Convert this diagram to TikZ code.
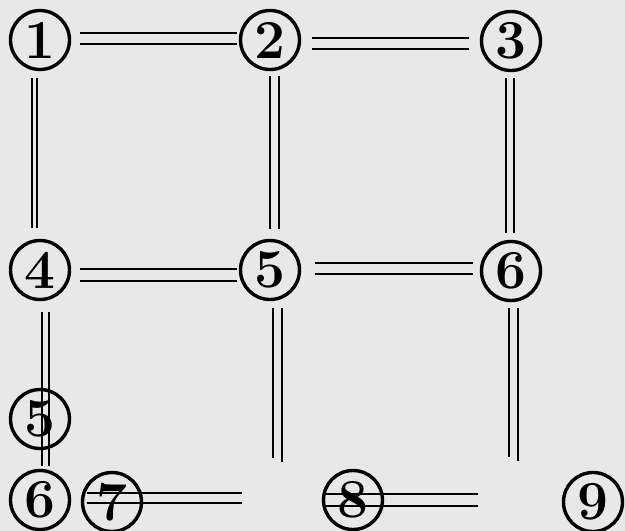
\documentclass[tikz,border=0pt]{standalone}
\usepackage{tikz}
\definecolor{paper}{RGB}{232,232,230}

\begin{document}
\begin{tikzpicture}[x=1pt, y=-1pt,
	num/.style={circle, draw, line width=3.4pt, minimum size=59pt, inner sep=0pt, outer sep=0pt, font=\fontsize{55}{55}\selectfont\bfseries},
	rail/.style={line width=1.5pt}]
	\fill[paper] (0,0) rectangle (625,531);
	\useasboundingbox (0,0) rectangle (625,531);
	% circled numbers
	\node[num] (n1) at (40,40) {1};
	\node[num] (n2) at (270,40) {2};
	\node[num] (n3) at (511,41) {3};
	\node[num] (n4) at (40,270) {4};
	\node[num] (n5) at (270,270) {5};
	\node[num] (n6) at (511,271) {6};
	\node[num] (n5b) at (40,419) {5};
	\node[num] (n6b) at (40,500) {6};
	\node[num] (n7) at (112,502) {7};
	\node[num] (n8) at (353,500) {8};
	\node[num] (n9) at (593,502) {9};
	% free ends
	\coordinate (e5a) at (273,458);
	\coordinate (e5b) at (282,462);
	\coordinate (e6a) at (509,457);
	\coordinate (e6b) at (518,461);
	\coordinate (e7a) at (242,493);
	\coordinate (e7b) at (242,503);
	\coordinate (e8a) at (478,494);
	\coordinate (e8b) at (478,506);
	% top row
	\draw[rail] ([shift={(10,-7)}]n1.east) -- ([shift={(-4,-7)}]n2.west);
	\draw[rail] ([shift={(10,4)}]n1.east) -- ([shift={(-4,4)}]n2.west);
	\draw[rail] ([shift={(12,-2)}]n2.east) -- ([shift={(-13,-3)}]n3.west);
	\draw[rail] ([shift={(12,9)}]n2.east) -- ([shift={(-13,8)}]n3.west);
	% middle row
	\draw[rail] ([shift={(10,-1)}]n4.east) -- ([shift={(-4,-1)}]n5.west);
	\draw[rail] ([shift={(10,11)}]n4.east) -- ([shift={(-4,11)}]n5.west);
	\draw[rail] ([shift={(15,-7)}]n5.east) -- ([shift={(-9,-8)}]n6.west);
	\draw[rail] ([shift={(15,4)}]n5.east) -- ([shift={(-9,3)}]n6.west);
	% verticals
	\draw[rail] ([shift={(-8,8)}]n1.south) -- ([shift={(-8,-13)}]n4.north);
	\draw[rail] ([shift={(-3,8)}]n1.south) -- ([shift={(-3,-13)}]n4.north);
	\draw[rail] ([shift={(0,6)}]n2.south) -- ([shift={(0,-12)}]n5.north);
	\draw[rail] ([shift={(9,6)}]n2.south) -- ([shift={(9,-12)}]n5.north);
	\draw[rail] ([shift={(-5,7)}]n3.south) -- ([shift={(-5,-9)}]n6.north);
	\draw[rail] ([shift={(3,7)}]n3.south) -- ([shift={(3,-9)}]n6.north);
	\draw[rail] ([shift={(2,12)}]n4.south) -- ([shift={(2,-5)}]n6b.north);
	\draw[rail] ([shift={(9,12)}]n4.south) -- ([shift={(9,-5)}]n6b.north);
	\draw[rail] ([shift={(3,8)}]n5.south) -- (e5a);
	\draw[rail] ([shift={(12,8)}]n5.south) -- (e5b);
	\draw[rail] ([shift={(-2,7)}]n6.south) -- (e6a);
	\draw[rail] ([shift={(7,7)}]n6.south) -- (e6b);
	% bottom row
	\draw[rail] ([shift={(4,-9)}]n7.west) -- (e7a);
	\draw[rail] ([shift={(4,1)}]n7.west) -- (e7b);
	\draw[rail] ([shift={(-1,-6)}]n8.west) -- (e8a);
	\draw[rail] ([shift={(-1,6)}]n8.west) -- (e8b);
\end{tikzpicture}
\end{document}
